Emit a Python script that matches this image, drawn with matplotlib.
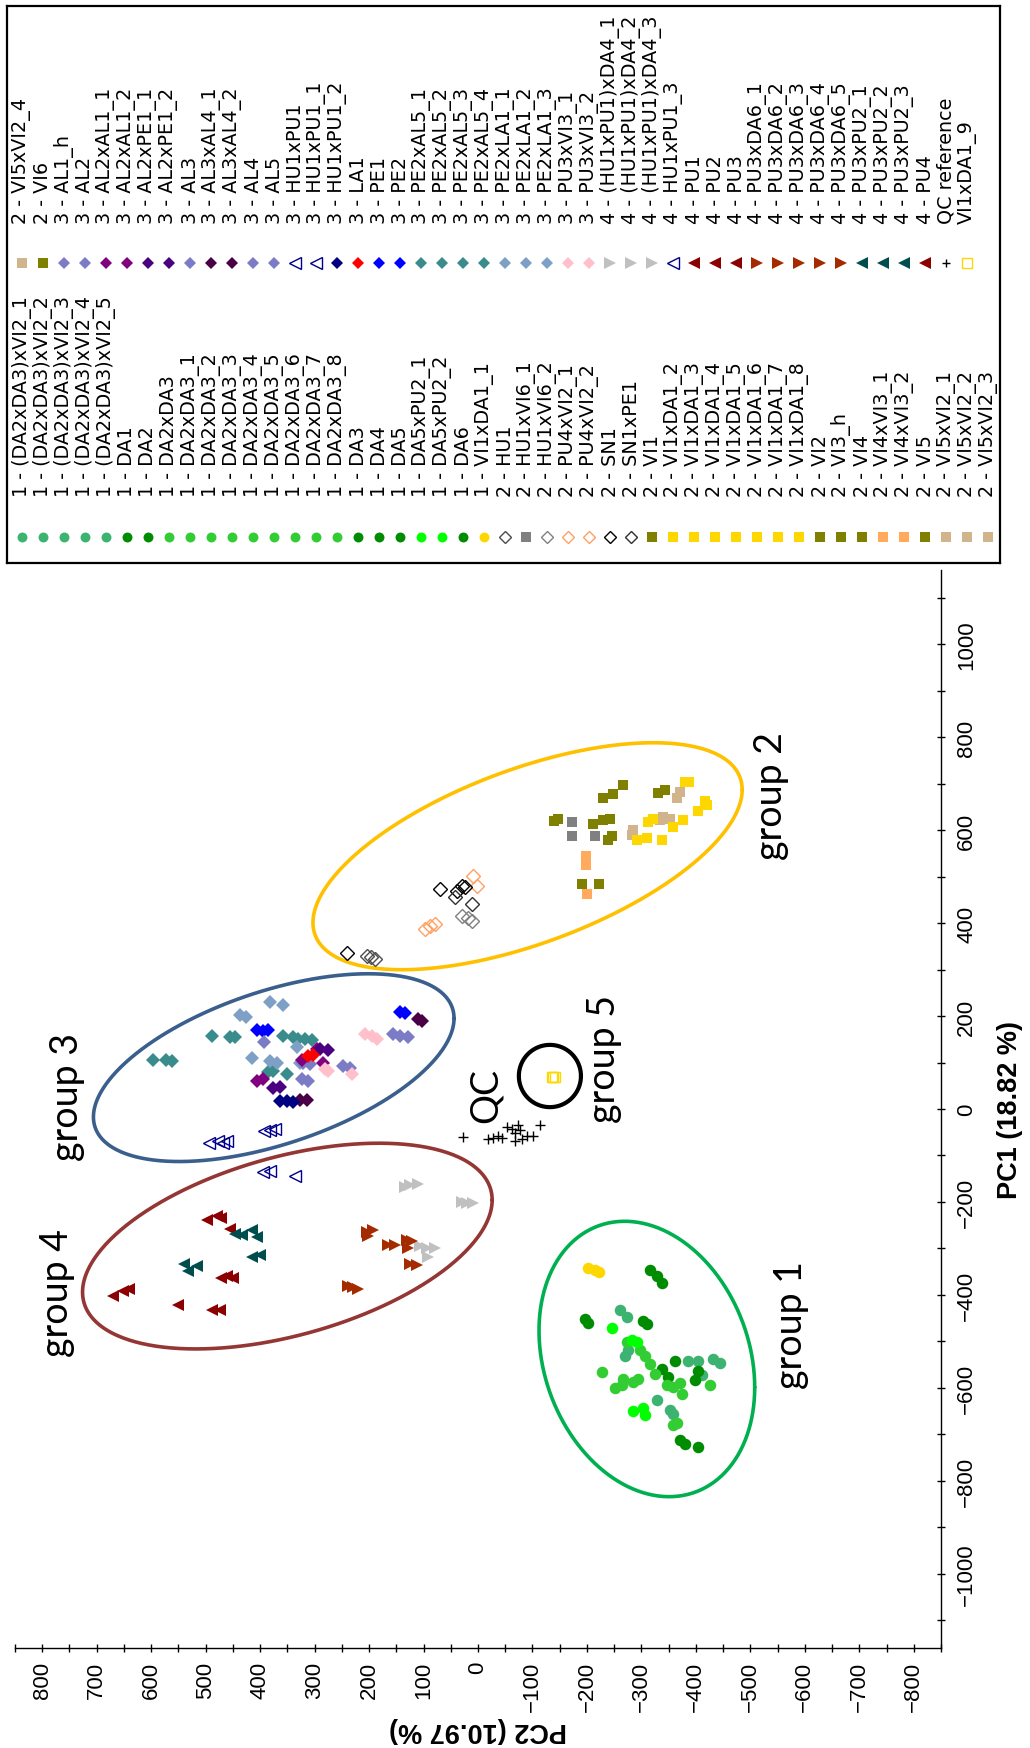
import numpy as np
import matplotlib
matplotlib.use("Agg")
import matplotlib.pyplot as plt
from matplotlib.ticker import MultipleLocator, NullFormatter

# ---------------------------------------------------------------
# PCA scores, one list per marker style: (PC2, PC1)
# ---------------------------------------------------------------
seagreen_pts = [(-261, -432), (-274, -447), (-276, -518), (-270, -531), (-386, -542),
                (-403, -542), (-432, -538), (-445, -546), (-329, -626), (-353, -647),
                (-358, -656), (-412, -572)]
green_pts = [(-316, -346), (-329, -359), (-338, -374), (-197, -452), (-202, -460),
             (-303, -456), (-311, -462), (-362, -542), (-338, -559), (-349, -576),
             (-403, -564), (-399, -583), (-371, -712), (-380, -721), (-403, -727)]
limegreen_pts = [(-228, -566), (-252, -600), (-265, -594), (-267, -581), (-285, -587),
                 (-294, -581), (-298, -518), (-307, -531), (-316, -549), (-325, -570),
                 (-347, -594), (-358, -598), (-371, -589), (-375, -613), (-426, -594),
                 (-358, -680), (-366, -675), (-274, -501)]
lime_pts = [(-246, -471), (-283, -497), (-292, -501), (-285, -650), (-303, -643), (-307, -658)]
gold_circle_pts = [(-202, -342), (-215, -346), (-222, -351)]

black_diamond_pts = [(70, 473), (39, 469), (29, 480), (24, 478), (241, 336)]
sn1pe1_pts = [(42, 456), (11, 441)]
hu1_pts = [(204, 329), (189, 323), (197, 327)]
grey_diamond_pts = [(29, 415), (18, 411), (11, 404)]
orange_diamond_pts = [(9, 501), (2, 480), (88, 394), (97, 387), (79, 398)]
olive_pts = [(-147, 624), (-140, 619), (-230, 669), (-248, 678), (-267, 697), (-211, 613),
             (-230, 622), (-243, 624), (-246, 587), (-239, 579), (-191, 484), (-222, 484),
             (-331, 680), (-344, 686)]
grey_square_pts = [(-173, 617), (-173, 587), (-215, 587)]
sandy_pts = [(-199, 544), (-199, 525), (-200, 462)]
tan_pts = [(-371, 682), (-366, 669), (-285, 600), (-283, 589), (-340, 628), (-353, 624),
           (-335, 622)]
gold_square_pts = [(-380, 703), (-388, 703), (-417, 663), (-421, 654), (-404, 641),
                   (-377, 622), (-358, 607), (-312, 617), (-322, 624), (-292, 579),
                   (-311, 583), (-338, 579)]

teal_pts = [(597, 105), (572, 105), (562, 103), (489, 157), (456, 155), (447, 155),
            (358, 157), (340, 155), (331, 151), (318, 151), (305, 148), (386, 80),
            (377, 82), (351, 75)]
steel_pts = [(437, 202), (425, 198), (382, 230), (358, 224), (414, 110), (382, 103),
             (369, 99), (333, 133), (327, 99)]
blue_pts = [(406, 170), (395, 168), (386, 170), (143, 209), (134, 206)]
lavender_pts = [(392, 144), (323, 65), (312, 60), (156, 161), (143, 157), (129, 155),
                (248, 92), (235, 88), (322, 99), (309, 97)]
purple_pts = [(406, 60), (395, 65), (323, 105), (285, 99), (296, 129)]
indigo_pts = [(377, 45), (364, 47), (290, 129), (276, 127)]
plum_pts = [(110, 194), (103, 189), (327, 19), (314, 19)]
navy_pts = [(364, 17), (351, 17), (340, 15)]
red_pts = [(312, 114), (303, 116)]
pink_pts = [(208, 161), (195, 157), (186, 151), (281, 86), (276, 82), (232, 75)]
navy_open_pts = [(493, -73), (478, -69), (469, -73), (461, -69), (392, -47), (382, -45),
                 (373, -43), (395, -136), (382, -133), (336, -144)]

silver_pts = [(134, -168), (125, -163), (110, -161), (29, -200), (20, -202), (9, -202),
              (107, -295), (94, -299), (79, -299), (92, -318)]
rust_pts = [(204, -265), (193, -260), (202, -273), (165, -293), (153, -293), (130, -282),
            (121, -284), (129, -299), (125, -333), (112, -336), (239, -381), (230, -383),
            (221, -387)]
darkred_pts = [(498, -239), (480, -230), (471, -234), (456, -258), (471, -364), (460, -359),
               (450, -364), (671, -402), (652, -391), (640, -387), (551, -422), (489, -432),
               (474, -432)]
darkteal_pts = [(447, -269), (434, -271), (415, -260), (406, -275), (414, -318), (401, -314),
                (539, -333), (533, -348), (516, -338)]

qc_pts = [(28, -60), (-18, -65), (-28, -62), (-37, -58), (-44, -62), (-53, -39), (-62, -43),
          (-68, -52), (-74, -34), (-77, -45), (-68, -69), (-81, -65), (-90, -58), (-101, -58),
          (-114, -34)]
vi1xda1_9_pts = [(-136, 69), (-138, 69), (-142, 69)]

# ---------------------------------------------------------------
# Legend entries (two columns)
# ---------------------------------------------------------------
legend_col1 = ["1 - (DA2xDA3)xVI2_1", "1 - (DA2xDA3)xVI2_2", "1 - (DA2xDA3)xVI2_3",
               "1 - (DA2xDA3)xVI2_4", "1 - (DA2xDA3)xVI2_5", "1 - DA1", "1 - DA2",
               "1 - DA2xDA3", "1 - DA2xDA3_1", "1 - DA2xDA3_2", "1 - DA2xDA3_3",
               "1 - DA2xDA3_4", "1 - DA2xDA3_5", "1 - DA2xDA3_6", "1 - DA2xDA3_7",
               "1 - DA2xDA3_8", "1 - DA3", "1 - DA4", "1 - DA5", "1 - DA5xPU2_1",
               "1 - DA5xPU2_2", "1 - DA6", "1 - VI1xDA1_1", "2 - HU1", "2 - HU1xVI6_1",
               "2 - HU1xVI6_2", "2 - PU4xVI2_1", "2 - PU4xVI2_2", "2 - SN1", "2 - SN1xPE1",
               "2 - VI1", "2 - VI1xDA1_2", "2 - VI1xDA1_3", "2 - VI1xDA1_4", "2 - VI1xDA1_5",
               "2 - VI1xDA1_6", "2 - VI1xDA1_7", "2 - VI1xDA1_8", "2 - VI2", "2 - VI3_h",
               "2 - VI4", "2 - VI4xVI3_1", "2 - VI4xVI3_2", "2 - VI5", "2 - VI5xVI2_1",
               "2 - VI5xVI2_2", "2 - VI5xVI2_3"]
legend_col1_styles = (["seagreen"] * 5 + ["green"] * 2 + ["limegreen"] * 9 + ["green"] * 3
                      + ["lime"] * 2 + ["green", "gold_o", "hu1", "grey_s", "grey_d",
                                        "orange_d", "orange_d", "black_d", "sn1pe1", "olive"]
                      + ["gold_s"] * 7 + ["olive"] * 3 + ["sandy"] * 2 + ["olive"]
                      + ["tan"] * 3)

legend_col2 = ["2 - VI5xVI2_4", "2 - VI6", "3 - AL1_h", "3 - AL2", "3 - AL2xAL1_1",
               "3 - AL2xAL1_2", "3 - AL2xPE1_1", "3 - AL2xPE1_2", "3 - AL3", "3 - AL3xAL4_1",
               "3 - AL3xAL4_2", "3 - AL4", "3 - AL5", "3 - HU1xPU1", "3 - HU1xPU1_1",
               "3 - HU1xPU1_2", "3 - LA1", "3 - PE1", "3 - PE2", "3 - PE2xAL5_1",
               "3 - PE2xAL5_2", "3 - PE2xAL5_3", "3 - PE2xAL5_4", "3 - PE2xLA1_1",
               "3 - PE2xLA1_2", "3 - PE2xLA1_3", "3 - PU3xVI3_1", "3 - PU3xVI3_2",
               "4 - (HU1xPU1)xDA4_1", "4 - (HU1xPU1)xDA4_2", "4 - (HU1xPU1)xDA4_3",
               "4 - HU1xPU1_3", "4 - PU1", "4 - PU2", "4 - PU3", "4 - PU3xDA6_1",
               "4 - PU3xDA6_2", "4 - PU3xDA6_3", "4 - PU3xDA6_4", "4 - PU3xDA6_5",
               "4 - PU3xPU2_1", "4 - PU3xPU2_2", "4 - PU3xPU2_3", "4 - PU4", "QC reference",
               "VI1xDA1_9"]
legend_col2_styles = (["tan", "olive", "lavender", "lavender", "purple", "purple", "indigo",
                       "indigo", "lavender", "plum", "plum", "lavender", "lavender",
                       "navy_open", "navy_open", "navy", "red", "blue", "blue"]
                      + ["teal"] * 4 + ["steel"] * 3 + ["pink"] * 2 + ["silver"] * 3
                      + ["navy_open"] + ["darkred"] * 3 + ["rust"] * 5 + ["darkteal"] * 3
                      + ["darkred", "qc", "gold_open"])

# group ellipses: centre, two conjugate semi-axes (PC2, PC1 units)
groups = ["group 1", "group 2", "group 3", "group 4", "group 5"]
group_colors = ["#00B050", "#FFC000", "#3A5F8C", "#943634", "#000000"]
group_centres = [(-310, -538), (-91, 544), (375, 89), (350, -295), (-132, 71)]
group_axis_u = [(-198, -61), (-394, 143), (-331, 106), (-376, 99), (-57, 0)]
group_axis_v = [(0, -290), (0, -198), (0, -172), (0, -198), (0, -67)]
group_label_pos = [(-574, -462), (-537, 675), (754, 28), (772, -394), (-232, 110)]

# ---------------------------------------------------------------
# Marker styles
# ---------------------------------------------------------------
STYLES = {
    "seagreen": ("o", "#3CB371", "#3CB371"),
    "green": ("o", "#008C00", "#008C00"),
    "limegreen": ("o", "#32CD32", "#32CD32"),
    "lime": ("o", "#00FF00", "#00FF00"),
    "gold_o": ("o", "#FFD700", "#FFD700"),
    "hu1": ("D", "none", "#4D4D4D"),
    "grey_s": ("s", "#808080", "#808080"),
    "grey_d": ("D", "none", "#808080"),
    "orange_d": ("D", "none", "#FFA060"),
    "black_d": ("D", "none", "#000000"),
    "sn1pe1": ("D", "none", "#303030"),
    "olive": ("s", "#808000", "#808000"),
    "gold_s": ("s", "#FFD700", "#FFD700"),
    "sandy": ("s", "#FFAA5C", "#FFAA5C"),
    "tan": ("s", "#D2B48C", "#D2B48C"),
    "lavender": ("D", "#7B7BC6", "#7B7BC6"),
    "purple": ("D", "#800080", "#800080"),
    "indigo": ("D", "#4B0082", "#4B0082"),
    "plum": ("D", "#4A0046", "#4A0046"),
    "navy_open": ("<", "none", "#00008B"),
    "navy": ("D", "#000080", "#000080"),
    "red": ("D", "#FF0000", "#FF0000"),
    "blue": ("D", "#0000FF", "#0000FF"),
    "teal": ("D", "#3A8C8C", "#3A8C8C"),
    "steel": ("D", "#7FA0C6", "#7FA0C6"),
    "pink": ("D", "#FFC0CB", "#FFC0CB"),
    "silver": (">", "#C0C0C0", "#C0C0C0"),
    "darkred": ("<", "#8B0000", "#8B0000"),
    "rust": (">", "#A62A00", "#A62A00"),
    "darkteal": ("<", "#004D4D", "#004D4D"),
    "qc": ("+", "#000000", "#000000"),
    "gold_open": ("s", "none", "#FFD700"),
}
MARKER_SIZE = {"o": 8.3, "s": 7.8, "D": 6.7, "<": 9.3, ">": 9.3, "+": 7.5}

SERIES = [
    ("seagreen", seagreen_pts), ("green", green_pts), ("limegreen", limegreen_pts),
    ("lime", lime_pts), ("gold_o", gold_circle_pts), ("hu1", hu1_pts),
    ("grey_d", grey_diamond_pts), ("orange_d", orange_diamond_pts),
    ("black_d", black_diamond_pts), ("sn1pe1", sn1pe1_pts), ("grey_s", grey_square_pts),
    ("olive", olive_pts), ("sandy", sandy_pts), ("tan", tan_pts), ("gold_s", gold_square_pts),
    ("teal", teal_pts), ("steel", steel_pts), ("blue", blue_pts), ("lavender", lavender_pts),
    ("purple", purple_pts), ("indigo", indigo_pts), ("plum", plum_pts), ("navy", navy_pts),
    ("pink", pink_pts), ("red", red_pts), ("navy_open", navy_open_pts),
    ("silver", silver_pts), ("rust", rust_pts), ("darkred", darkred_pts),
    ("darkteal", darkteal_pts), ("qc", qc_pts), ("gold_open", vi1xda1_9_pts),
]


def marker_kw(style, scale=1.0):
    m, fc, ec = STYLES[style]
    kw = dict(marker=m, linestyle="none", markersize=MARKER_SIZE[m] * scale,
              markerfacecolor=fc, markeredgecolor=ec)
    if fc == "none" or m == "+":
        kw["markeredgewidth"] = 1.0
    else:
        kw["markeredgewidth"] = 0.0
    return kw


plt.rcParams["font.family"] = ["Liberation Sans", "DejaVu Sans"]

W, H = 1030, 1749
fig = plt.figure(figsize=(W / 100, H / 100), dpi=100)

# ---------------------------------------------------------------
# Score plot
# ---------------------------------------------------------------
ax = fig.add_axes([15 / W, 100 / H, 926 / W, 1078 / H])
ax.set_xlim(850, -850)
ax.set_ylim(-1160, 1160)

for style, pts in SERIES:
    arr = np.array(pts, dtype=float)
    ax.plot(arr[:, 0], arr[:, 1], **marker_kw(style), zorder=3)

t = np.linspace(0, 2 * np.pi, 400)
for c, u, v, col, name in zip(group_centres, group_axis_u, group_axis_v, group_colors, groups):
    ex = c[0] + u[0] * np.cos(t) + v[0] * np.sin(t)
    ey = c[1] + u[1] * np.cos(t) + v[1] * np.sin(t)
    ax.plot(ex, ey, color=col, lw=3.0 if name == "group 5" else 2.6, zorder=2,
            solid_capstyle="round")

for name, (px, py) in zip(groups, group_label_pos):
    ax.text(px, py, name, rotation=90, ha="center", va="center", fontsize=27,
            family=["Lato", "DejaVu Sans"], zorder=4)
ax.text(-15, 32, "QC", rotation=90, ha="center", va="center", fontsize=27,
        family=["Lato", "DejaVu Sans"], zorder=4)

for side in ("top", "left"):
    ax.spines[side].set_visible(False)
for side in ("bottom", "right"):
    ax.spines[side].set_linewidth(1.0)

ax.yaxis.tick_right()
ax.yaxis.set_label_position("right")
ax.xaxis.set_major_locator(MultipleLocator(100))
ax.xaxis.set_minor_locator(MultipleLocator(50))
ax.yaxis.set_major_locator(MultipleLocator(200))
ax.yaxis.set_minor_locator(MultipleLocator(100))
ax.yaxis.set_minor_formatter(NullFormatter())
ax.tick_params(which="both", direction="inout", length=6, width=1.0)
ax.tick_params(axis="x", which="major", labelrotation=90, labelsize=16, pad=6)
ax.tick_params(axis="y", which="major", labelrotation=90, labelsize=16, pad=8)

ax.set_xlabel("PC2 (10.97 %)", fontsize=19.5, fontweight="bold", rotation=180, va="center")
ax.xaxis.set_label_coords(0.5, -0.075)
ax.set_ylabel("PC1 (18.82 %)", fontsize=19.5, fontweight="bold", rotation=90,
              va="center", ha="center")
ax.yaxis.set_label_coords(1.0745, 0.5)

for lbl in ax.get_yticklabels():
    lbl.set_va("center")

# ---------------------------------------------------------------
# Legend panel
# ---------------------------------------------------------------
lax = fig.add_axes([7 / W, (H - 564) / H, 993 / W, 557 / H])
lax.set_xlim(-0.714, 46.57)
lax.set_ylim(564, 7)
lax.set_xticks([])
lax.set_yticks([])
for sp in lax.spines.values():
    sp.set_linewidth(1.6)

for col_labels, col_styles, y_mark, y_text in ((legend_col1, legend_col1_styles, 538, 497),
                                               (legend_col2, legend_col2_styles, 264, 224)):
    for i, (lab, st) in enumerate(zip(col_labels, col_styles)):
        lax.plot(i, y_mark, **marker_kw(st, 0.86))
        lax.text(i, y_text, lab, rotation=90, ha="center", va="bottom", fontsize=13.8,
                 family=["DejaVu Sans"])

fig.savefig("out.png", dpi=100)
